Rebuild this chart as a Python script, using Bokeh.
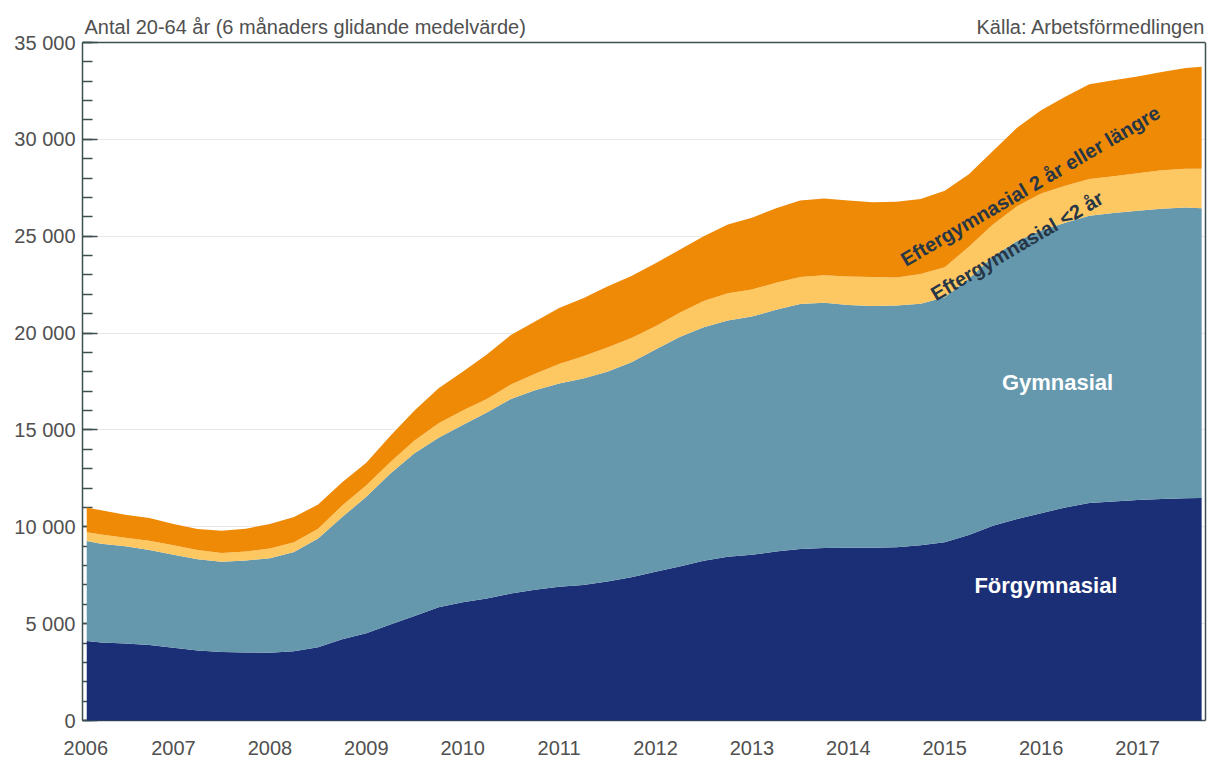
from bokeh.plotting import figure
from bokeh.models import ColumnDataSource, Range1d, FixedTicker, Label, Span, LinearAxis
from bokeh.embed import file_html
from bokeh.resources import INLINE

# ---- data (quarterly readings, decimal years) ----
x_years = [2006.1, 2006.25, 2006.5, 2006.75, 2007.0, 2007.25, 2007.5, 2007.75,
           2008.0, 2008.25, 2008.5, 2008.75, 2009.0, 2009.25, 2009.5, 2009.75,
           2010.0, 2010.25, 2010.5, 2010.75, 2011.0, 2011.25, 2011.5, 2011.75,
           2012.0, 2012.25, 2012.5, 2012.75, 2013.0, 2013.25, 2013.5, 2013.75,
           2014.0, 2014.25, 2014.5, 2014.75, 2015.0, 2015.25, 2015.5, 2015.75,
           2016.0, 2016.25, 2016.5, 2016.75, 2017.0, 2017.25, 2017.5, 2017.665]

forgymnasial = [4100, 4030, 3980, 3900, 3750, 3620, 3530, 3510,
                3500, 3580, 3780, 4200, 4500, 4950, 5400, 5850,
                6100, 6300, 6550, 6750, 6900, 7000, 7180, 7400,
                7680, 7950, 8250, 8450, 8550, 8720, 8850, 8900,
                8920, 8920, 8940, 9050, 9200, 9580, 10050, 10400,
                10700, 11000, 11230, 11300, 11380, 11440, 11470, 11480]

gymnasial = [5160, 5100, 5010, 4900, 4810, 4710, 4670, 4750,
             4880, 5120, 5620, 6300, 7050, 7800, 8400, 8750,
             9150, 9600, 10050, 10300, 10500, 10650, 10820, 11100,
             11470, 11850, 12050, 12200, 12300, 12480, 12650, 12660,
             12530, 12480, 12480, 12470, 12650, 13220, 13900, 14350,
             14600, 14700, 14820, 14900, 14940, 14980, 15010, 14970]

efter_kort = [460, 470, 450, 480, 490, 470, 450, 460,
              500, 500, 500, 600, 600, 600, 650, 750,
              750, 700, 750, 850, 1000, 1150, 1250, 1250,
              1200, 1250, 1350, 1400, 1400, 1400, 1400, 1420,
              1470, 1500, 1450, 1530, 1550, 1650, 1650, 1800,
              1900, 1900, 1900, 1900, 1930, 1980, 2000, 2030]

efter_lang = [1270, 1250, 1180, 1170, 1100, 1090, 1150, 1180,
              1270, 1300, 1250, 1200, 1150, 1350, 1550, 1800,
              2000, 2300, 2550, 2700, 2900, 3000, 3150, 3200,
              3250, 3250, 3350, 3550, 3700, 3850, 3950, 3970,
              3930, 3850, 3910, 3870, 3950, 3750, 3800, 4050,
              4300, 4600, 4900, 4950, 5000, 5080, 5200, 5270]

series_names = ["Förgymnasial", "Gymnasial", "Eftergymnasial <2 år",
                "Eftergymnasial 2 år eller längre"]
series_colors = ["#1b2f76", "#6598ad", "#fdc762", "#ee8a05"]

year_ticks = [2006.09, 2007, 2008, 2009, 2010, 2011, 2012, 2013, 2014, 2015, 2016, 2017]
year_labels = ["2006", "2007", "2008", "2009", "2010", "2011", "2012", "2013",
               "2014", "2015", "2016", "2017"]
y_ticks = [0, 5000, 10000, 15000, 20000, 25000, 30000, 35000]
y_labels = ["0", "5 000", "10 000", "15 000", "20 000", "25 000", "30 000", "35 000"]
y_top = 35000

title_left = "Antal 20-64 år (6 månaders glidande medelvärde)"
title_right = "Källa: Arbetsförmedlingen"

FONT = "Liberation Sans"
TXT = "#505050"
AX = "#3f4f4f"
X0, X1 = 2006.056, 2017.705

source = ColumnDataSource(dict(
    x=x_years, f=forgymnasial, g=gymnasial, k=efter_kort, l=efter_lang))

p = figure(width=1210, height=762, output_backend="svg", toolbar_location=None,
           x_range=Range1d(X0, X1), y_range=Range1d(0, y_top * 708 / 678),
           min_border_left=82, min_border_right=5, min_border_top=12,
           min_border_bottom=42)

areas = p.varea_stack(stackers=["f", "g", "k", "l"], x="x", color=series_colors,
                      source=source)
for r in areas:
    r.level = "annotation"

# axes
p.xaxis.ticker = FixedTicker(ticks=year_ticks)
p.xaxis.major_label_overrides = {t: s for t, s in zip(year_ticks, year_labels)}
p.xaxis.major_tick_line_color = None
p.xaxis.minor_tick_line_color = None
p.xaxis.major_label_standoff = 14

p.yaxis.ticker = FixedTicker(ticks=y_ticks,
                             minor_ticks=list(range(0, y_top + 1, 1000)))
p.yaxis.major_label_overrides = {t: s for t, s in zip(y_ticks, y_labels)}
p.yaxis.bounds = (0, y_top)
p.yaxis.major_tick_in = 15
p.yaxis.major_tick_out = 0
p.yaxis.minor_tick_in = 10
p.yaxis.minor_tick_out = 0
p.yaxis.major_label_standoff = 7
p.yaxis.major_tick_line_color = AX
p.yaxis.minor_tick_line_color = AX
p.yaxis.major_tick_line_width = 1.5
p.yaxis.minor_tick_line_width = 1.5

for ax in (p.xaxis[0], p.yaxis[0]):
    ax.axis_line_color = AX
    ax.axis_line_width = 1.5
    ax.major_label_text_font = FONT
    ax.major_label_text_font_size = "20px"
    ax.major_label_text_color = TXT

# right frame edge and top frame edge
right_ax = LinearAxis(ticker=FixedTicker(ticks=[]), bounds=(0, y_top),
                      axis_line_color=AX, axis_line_width=1.5,
                      major_tick_line_color=None, minor_tick_line_color=None,
                      major_label_text_font_size="0px")
p.add_layout(right_ax, "right")
p.add_layout(Span(location=y_top, dimension="width", line_color=AX,
                  line_width=1.5, level="overlay"))

p.xgrid.grid_line_color = None
p.ygrid.ticker = FixedTicker(ticks=y_ticks)
p.ygrid.grid_line_color = "#e8e8e8"

p.outline_line_color = None
p.background_fill_color = "white"
p.border_fill_color = "white"

# titles
p.add_layout(Label(x=X0, y=y_top, x_offset=2, y_offset=16, text=title_left,
                   text_font=FONT, text_font_size="20px", text_color=TXT,
                   text_baseline="middle", text_align="left", level="overlay"))
p.add_layout(Label(x=X1, y=y_top, x_offset=0, y_offset=16, text=title_right,
                   text_font=FONT, text_font_size="20px", text_color=TXT,
                   text_baseline="middle", text_align="right", level="overlay"))

# series labels
lab_x = [2016.05, 2016.17, 2015.75, 2015.89]
lab_y = [6970, 17440, 24500, 27600]
lab_angle = [0, 0, 0.53, 0.53]
lab_size = ["22px", "22px", "20px", "20px"]
lab_color = ["white", "white", "#263646", "#263646"]
for i in range(4):
    p.add_layout(Label(x=lab_x[i], y=lab_y[i], text=series_names[i],
                       angle=lab_angle[i], text_font=FONT,
                       text_font_size=lab_size[i], text_font_style="bold",
                       text_color=lab_color[i], text_align="center",
                       text_baseline="middle", level="overlay"))

open("out.html", "w").write(file_html(p, INLINE))
